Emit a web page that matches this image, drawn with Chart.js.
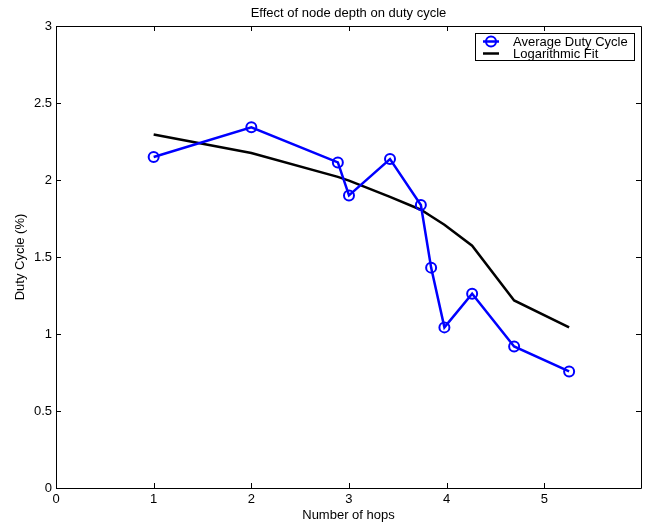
<!DOCTYPE html>
<html>
<head>
<meta charset="utf-8">
<script src="https://cdn.jsdelivr.net/npm/chart.js@4.4.0/dist/chart.umd.min.js"></script>
<style>
html,body{margin:0;padding:0;background:#fff;}
#wrap{width:649px;height:522px;position:relative;}
</style>
</head>
<body>
<div id="wrap"><canvas id="c" width="649" height="522"></canvas></div>
<script>
const hops = [1.0, 2.0, 2.886, 3.0, 3.42, 3.736, 3.841, 3.977, 4.261, 4.691, 5.254];
const dutyCycle = [2.149, 2.342, 2.114, 1.900, 2.136, 1.838, 1.431, 1.043, 1.262, 0.919, 0.757];
const logFit = [2.296, 2.175, 2.020, 1.996, 1.890, 1.807, 1.765, 1.710, 1.573, 1.218, 1.043];
const xTicks = [0, 1, 2, 3, 4, 5];
const yTicks = [0, 0.5, 1, 1.5, 2, 2.5, 3];
const seriesNames = ['Average Duty Cycle', 'Logarithmic Fit'];
const titleText = 'Effect of node depth on duty cycle';
const xTitle = 'Number of hops';
const yTitle = 'Duty Cycle (%)';

const FONT = '"Liberation Sans", Arial, Helvetica, sans-serif';
const FS = 13;

const framePlugin = {
  id: 'frame',
  afterDraw(chart) {
    const ctx = chart.ctx;
    const a = chart.chartArea;
    const xs = chart.scales.x, ys = chart.scales.y;
    ctx.save();
    ctx.strokeStyle = '#000';
    ctx.lineWidth = 1;
    ctx.beginPath();
    ctx.rect(Math.round(a.left) + 0.5, Math.round(a.top) + 0.5, Math.round(a.right - a.left), Math.round(a.bottom - a.top));
    ctx.stroke();
    const tl = 5;
    ctx.beginPath();
    xTicks.forEach(v => {
      const px = Math.round(xs.getPixelForValue(v)) + 0.5;
      ctx.moveTo(px, a.bottom); ctx.lineTo(px, a.bottom - tl);
      ctx.moveTo(px, a.top); ctx.lineTo(px, a.top + tl);
    });
    yTicks.forEach(v => {
      const py = Math.round(ys.getPixelForValue(v)) + 0.5;
      ctx.moveTo(a.left, py); ctx.lineTo(a.left + tl, py);
      ctx.moveTo(a.right, py); ctx.lineTo(a.right - tl, py);
    });
    ctx.stroke();

    // titles
    ctx.fillStyle = '#000';
    ctx.font = FS + 'px ' + FONT;
    ctx.textAlign = 'center';
    ctx.textBaseline = 'middle';
    const cx = (a.left + a.right) / 2;
    ctx.fillText(titleText, cx, 13);
    ctx.fillText(xTitle, cx, 515);
    ctx.save();
    ctx.translate(20, (a.top + a.bottom) / 2);
    ctx.rotate(-Math.PI / 2);
    ctx.fillText(yTitle, 0, 0);
    ctx.restore();

    // legend
    const bx = 475.5, by = 33.5, bw = 159, bh = 27;
    ctx.fillStyle = '#fff';
    ctx.fillRect(bx, by, bw, bh);
    ctx.strokeStyle = '#000';
    ctx.lineWidth = 1;
    ctx.strokeRect(bx, by, bw, bh);
    const ds = chart.data.datasets;
    const rows = [41.5, 53.5];
    rows.forEach((ry, i) => {
      ctx.strokeStyle = ds[i].borderColor;
      ctx.lineWidth = 2.5;
      ctx.beginPath();
      ctx.moveTo(483, ry); ctx.lineTo(499, ry);
      ctx.stroke();
      if (i === 0) {
        ctx.lineWidth = 2;
        ctx.beginPath();
        ctx.arc(491, ry, 5, 0, Math.PI * 2);
        ctx.stroke();
      }
      ctx.fillStyle = '#000';
      ctx.textAlign = 'left';
      ctx.font = FS + 'px ' + FONT;
      ctx.fillText(seriesNames[i], 513, ry + 0.5);
    });
    ctx.restore();
  }
};

new Chart(document.getElementById('c'), {
  type: 'scatter',
  data: {
    datasets: [
      {
        label: seriesNames[0],
        data: hops.map((x, i) => ({x: x, y: dutyCycle[i]})),
        showLine: true,
        borderColor: '#0000ff',
        borderWidth: 2.5,
        pointRadius: 5,
        pointBorderWidth: 2,
        pointBackgroundColor: 'rgba(0,0,0,0)',
        pointBorderColor: '#0000ff',
        tension: 0
      },
      {
        label: seriesNames[1],
        data: hops.map((x, i) => ({x: x, y: logFit[i]})),
        showLine: true,
        borderColor: '#000000',
        borderWidth: 2.5,
        pointRadius: 0,
        tension: 0
      }
    ]
  },
  options: {
    responsive: false,
    animation: false,
    events: [],
    layout: {padding: {left: 0, right: 8, top: 26, bottom: 0}},
    plugins: {legend: {display: false}, title: {display: false}, tooltip: {enabled: false}},
    scales: {
      x: {
        type: 'linear', min: 0, max: 5.99,
        afterFit(s) { s.height = 34; },
        afterBuildTicks(s) { s.ticks = xTicks.map(v => ({value: v})); },
        grid: {display: false, drawTicks: false},
        border: {display: false},
        ticks: {color: '#000', font: {family: FONT, size: FS}, padding: 4, maxRotation: 0, autoSkip: false,
                callback: v => String(v)}
      },
      y: {
        type: 'linear', min: 0, max: 3,
        afterFit(s) { s.width = 56; },
        afterBuildTicks(s) { s.ticks = yTicks.map(v => ({value: v})); },
        grid: {display: false, drawTicks: false},
        border: {display: false},
        ticks: {color: '#000', font: {family: FONT, size: FS}, padding: 4, autoSkip: false,
                callback: v => String(v)}
      }
    }
  },
  plugins: [framePlugin]
});
</script>
</body>
</html>
